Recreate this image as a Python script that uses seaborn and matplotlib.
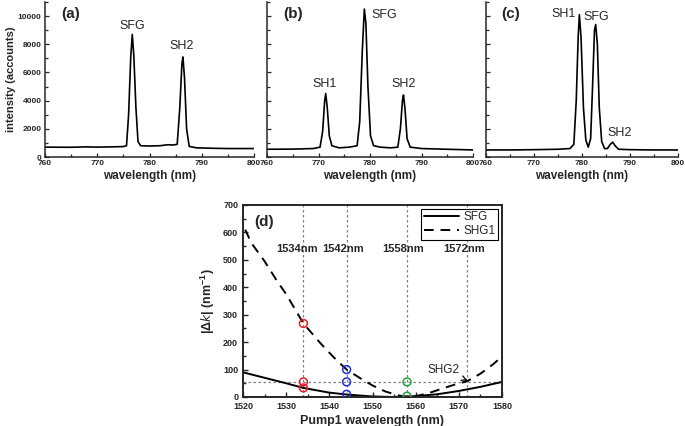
import numpy as np
import pandas as pd
import matplotlib
matplotlib.use("Agg")
import matplotlib.pyplot as plt
from matplotlib.ticker import MultipleLocator
from matplotlib.lines import Line2D
import seaborn as sns

# ---------------- data ----------------
# panel (a) spectrum
wl_a = [760, 765, 768, 770, 773, 775, 775.6, 776.0, 776.4, 776.7, 777.0, 777.4, 777.8, 778.3,
        780, 782, 783.5, 784.5, 785.3, 785.8, 786.2, 786.4, 786.7, 787.1, 787.6, 789, 792, 795, 800]
int_a = [700, 690, 720, 700, 720, 740, 800, 3000, 7000, 8700, 7200, 3500, 1100, 800,
         780, 800, 870, 850, 900, 3500, 6600, 7100, 5600, 2000, 750, 650, 620, 600, 600]
# panel (b) spectrum
wl_b = [760, 765, 769, 770.3, 770.8, 771.2, 771.4, 771.7, 772.1, 772.6, 774, 776, 777.5, 778.0,
        778.5, 778.9, 779.2, 779.6, 780.1, 780.7, 782, 784, 785.4, 785.9, 786.3, 786.5, 786.8,
        787.2, 787.8, 790, 795, 800]
int_b = [550, 560, 600, 700, 1800, 4000, 4500, 3500, 1500, 800, 650, 700, 800, 2500,
         7500, 10500, 9500, 5000, 1500, 800, 700, 650, 700, 2000, 4000, 4400, 3400,
         1300, 700, 600, 550, 500]
# panel (c) spectrum
wl_c = [760, 765, 770, 775, 777.5, 778.3, 778.8, 779.2, 779.45, 779.8, 780.3, 780.8, 781.3,
        781.8, 782.2, 782.6, 782.85, 783.2, 783.6, 784.1, 784.7, 785.3, 785.9, 786.4, 786.9,
        787.6, 790, 795, 800]
int_c = [500, 500, 520, 550, 600, 900, 4000, 8500, 10100, 8500, 3500, 1200, 700,
         1300, 5000, 9000, 9400, 8000, 3500, 1100, 600, 600, 900, 1050, 800,
         550, 520, 500, 500]

# peak labels (text, wavelength, intensity)
labels_a = [("SFG", 776.7, 9300), ("SH2", 786.2, 7900)]
labels_b = [("SH1", 771.2, 5200), ("SFG", 782.7, 10100), ("SH2", 786.5, 5200)]
labels_c = [("SH1", 776.2, 10150), ("SFG", 783.0, 9950), ("SH2", 787.8, 1700)]

# panel (d) phase mismatch curves
pump_sfg = [1520, 1525, 1530, 1534, 1540, 1544, 1550, 1555, 1560, 1565, 1570, 1575, 1580]
dk_sfg = [90, 70, 50, 33, 16, 9, 2, 0, 3, 10, 22, 37, 55]
pump_shg1 = [1520.5, 1522, 1525, 1528, 1530, 1534, 1538, 1541, 1544, 1547, 1550, 1553, 1556,
             1558, 1560, 1563, 1566, 1569, 1572, 1575, 1578, 1580]
dk_shg1 = [610, 560, 495, 420, 375, 268, 195, 145, 100, 70, 42, 20, 6,
           0, 3, 14, 30, 45, 58, 85, 120, 148]

# marked points
mark_x = [1534, 1534, 1534, 1544, 1544, 1544, 1558, 1558]
mark_y = [268, 55, 33, 100, 55, 10, 55, 3]
mark_group = ["1534", "1534", "1534", "1544", "1544", "1544", "1558", "1558"]
mark_colors = {"1534": "#e8202a", "1544": "#1f2fe0", "1558": "#1fa83a"}

vlines_x = [1534, 1544, 1558, 1572]
vline_labels = ["1534nm", "1542nm", "1558nm", "1572nm"]
vline_label_x = [1532.6, 1543.2, 1557.1, 1571.2]
hline_y = 56

# ---------------- style ----------------
sns.set_theme(style="ticks")
plt.rcParams["font.family"] = ["Liberation Sans", "DejaVu Sans"]
plt.rcParams["xtick.direction"] = "in"
plt.rcParams["ytick.direction"] = "in"
plt.rcParams["mathtext.default"] = "regular"

W, H = 685, 426
fig = plt.figure(figsize=(W / 100, H / 100), dpi=100)


def box(l, r, t, b):
    return [l / W, 1 - b / H, (r - l) / W, (b - t) / H]


spec_axes = [
    (box(45, 254, 2, 157), wl_a, int_a, "(a)", True, labels_a),
    (box(267, 473, 2, 157), wl_b, int_b, "(b)", False, labels_b),
    (box(486, 678, 2, 157), wl_c, int_c, "(c)", False, labels_c),
]

for pos, wl, inten, tag, show_y, labels in spec_axes:
    ax = fig.add_axes(pos)
    df = pd.DataFrame({"wl": wl, "I": inten})
    sns.lineplot(data=df, x="wl", y="I", ax=ax, color="black", linewidth=1.2)
    ax.set_xlim(760, 800)
    ax.set_ylim(0, 11000)
    ax.xaxis.set_major_locator(MultipleLocator(10))
    ax.xaxis.set_minor_locator(MultipleLocator(5))
    ax.yaxis.set_major_locator(MultipleLocator(2000))
    ax.yaxis.set_minor_locator(MultipleLocator(1000))
    ax.tick_params(which="both", direction="in", labelsize=6, width=0.9, pad=2.5)
    ax.tick_params(which="major", length=3)
    ax.tick_params(which="minor", length=2)
    for t in ax.get_xticklabels() + ax.get_yticklabels():
        t.set_fontweight("bold")
    for s in ["top", "right"]:
        ax.spines[s].set_visible(False)
    for s in ["left", "bottom"]:
        ax.spines[s].set_linewidth(1.1)
    ax.set_xlabel("wavelength (nm)", fontsize=8.5, fontweight="bold", labelpad=2)
    if show_y:
        ax.set_ylabel("intensity (accounts)", fontsize=8, fontweight="bold", labelpad=1)
    else:
        ax.set_ylabel("")
        ax.set_yticklabels([])
    ax.text(0.08, 0.97, tag, transform=ax.transAxes, fontsize=11, fontweight="bold",
            va="top", ha="left")
    for txt, x, y in labels:
        ax.text(x, y, txt, fontsize=9, ha="center", va="center")

# ---------------- panel (d) ----------------
axd = fig.add_axes(box(243, 502, 205, 397))
df_d = pd.concat([
    pd.DataFrame({"pump": pump_sfg, "dk": dk_sfg, "curve": "SFG"}),
    pd.DataFrame({"pump": pump_shg1, "dk": dk_shg1, "curve": "SHG1"}),
])
sns.lineplot(data=df_d, x="pump", y="dk", style="curve", ax=axd, color="black",
             dashes={"SFG": "", "SHG1": (5, 3.5)}, linewidth=1.4, legend=False,
             sort=False, estimator=None)

for xv in vlines_x:
    axd.axvline(xv, color="#808080", linestyle=(0, (2, 2)), linewidth=0.9, zorder=1)
axd.axhline(hline_y, color="#808080", linestyle=(0, (2, 2)), linewidth=0.9, zorder=1)

df_m = pd.DataFrame({"x": mark_x, "y": mark_y, "g": mark_group})
for g, sub in df_m.groupby("g"):
    sns.scatterplot(data=sub, x="x", y="y", ax=axd, s=32, facecolors="none",
                    edgecolor=mark_colors[g], linewidth=1.1, zorder=5, legend=False)

for xl, lab in zip(vline_label_x, vline_labels):
    axd.text(xl, 540, lab, fontsize=8, fontweight="bold", ha="center", va="center")

axd.annotate("SHG2", xy=(1572, 60), xytext=(1566.4, 98), fontsize=8.5,
             ha="center", va="center",
             arrowprops=dict(arrowstyle="->", color="black", lw=0.9,
                             shrinkA=3, shrinkB=0))
axd.text(1522.5, 638, "(d)", fontsize=11, fontweight="bold", ha="left", va="center")

axd.set_xlim(1520, 1580)
axd.set_ylim(0, 700)
axd.xaxis.set_major_locator(MultipleLocator(10))
axd.xaxis.set_minor_locator(MultipleLocator(5))
axd.yaxis.set_major_locator(MultipleLocator(100))
axd.yaxis.set_minor_locator(MultipleLocator(50))
axd.tick_params(which="both", direction="in", labelsize=6.5, width=1.0,
                top=False, right=False)
axd.tick_params(which="major", length=3.5)
axd.tick_params(which="minor", length=2)
for t in axd.get_xticklabels() + axd.get_yticklabels():
    t.set_fontweight("bold")
for s in axd.spines.values():
    s.set_linewidth(1.4)
    s.set_visible(True)
axd.set_xlabel("Pump1 wavelength (nm)", fontsize=9, fontweight="bold", labelpad=3)
axd.set_ylabel(r"|$\Delta$$\mathit{k}$| (nm$^{-1}$)", fontsize=9, fontweight="bold", labelpad=4)

handles = [Line2D([], [], color="black", lw=1.4),
           Line2D([], [], color="black", lw=1.4, dashes=(5, 3.5))]
leg = axd.legend(handles, ["SFG", "SHG1"], loc="upper right", fontsize=8.5,
                 frameon=True, fancybox=False, edgecolor="black", framealpha=1,
                 borderpad=0.2, labelspacing=0.2, handlelength=3.0, handletextpad=0.4,
                 borderaxespad=0.3)
leg.get_frame().set_linewidth(0.8)

fig.savefig("out.png", dpi=100)
